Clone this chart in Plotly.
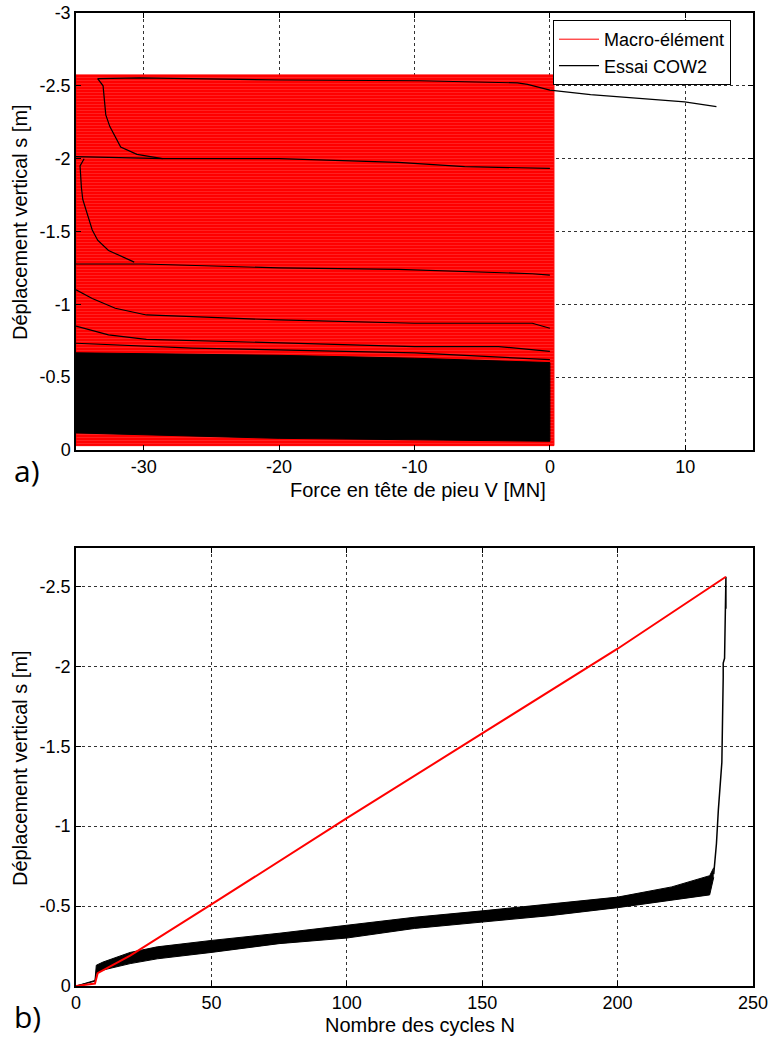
import plotly.graph_objects as go

W, H = 770, 1038

# ---------------- Panel a) : Force V [MN] vs displacement s [m] ----------------
# Macro-element hysteresis area (dense cycles) : force range and displacement range
mac_area_V = [-35.0, 0.3, 0.3, -35.0, -35.0]
mac_area_s = [-2.575, -2.575, -0.03, -0.03, -2.575]
# Macro-element last unloading branch beyond 0
mac_tail_V = [0.0, 12.3]
mac_tail_s = [-2.55, -2.55]

# Test COW2 : dense cycling block
exp_block_V = [-35.0, -20.0, -10.0, 0.0, 0.0, -20.0, -35.0, -35.0]
exp_block_s = [-0.667, -0.65, -0.63, -0.60, -0.06, -0.08, -0.117, -0.667]

# Test COW2 : individual envelope branches
exp_b1_V = [-33.4, -30.3, -19.9, -9.6, -2.4, -1.65, 0.0, 3.0, 9.95, 12.3]
exp_b1_s = [-2.55, -2.555, -2.54, -2.535, -2.52, -2.51, -2.47, -2.44, -2.39, -2.357]
exp_b2_V = [-33.4, -33.0, -32.9, -32.8, -32.5, -31.7, -30.5, -28.6]
exp_b2_s = [-2.55, -2.50, -2.40, -2.30, -2.22, -2.08, -2.03, -2.00]
exp_b3_V = [-35.0, -28.6, -20.0, -11.2, -6.3, 0.0]
exp_b3_s = [-2.014, -2.0, -2.0, -1.975, -1.945, -1.934]
exp_b4_V = [-34.4, -34.7, -34.6, -34.5, -33.8, -33.4, -32.6, -31.4, -30.7]
exp_b4_s = [-2.0, -1.95, -1.80, -1.72, -1.51, -1.44, -1.37, -1.316, -1.29]
exp_b5_V = [-35.0, -30.0, -20.0, -11.2, -1.3, 0.0]
exp_b5_s = [-1.277, -1.277, -1.25, -1.24, -1.21, -1.20]
exp_b6_V = [-35.0, -33.8, -32.1, -29.8, -26.4, -20.0, -10.0, -1.3, 0.0]
exp_b6_s = [-1.10, -1.04, -0.973, -0.927, -0.915, -0.893, -0.87, -0.87, -0.836]
exp_b7_V = [-35.0, -32.6, -29.8, -20.0, -10.0, -3.8, 0.0]
exp_b7_s = [-0.85, -0.79, -0.76, -0.735, -0.71, -0.71, -0.677]
exp_b8_V = [-35.0, -26.4, -10.0, 0.0]
exp_b8_s = [-0.733, -0.70, -0.667, -0.62]

xa_ticks = [-30, -20, -10, 0, 10]
xa_text = ["-30", "-20", "-10", "0", "10"]
ya_ticks = [-3, -2.5, -2, -1.5, -1, -0.5, 0]
ya_text = ["-3", "-2.5", "-2", "-1.5", "-1", "-0.5", "0"]

# ---------------- Panel b) : cycles N vs displacement s [m] ----------------
mac_N = [0, 7, 8, 20, 50, 100, 150, 200, 240]
mac_s = [0.0, -0.015, -0.08, -0.19, -0.51, -1.05, -1.58, -2.11, -2.56]

exp_N = [0, 7, 7.5, 10, 20, 30, 50, 75, 100, 125, 150, 175, 200, 220, 234, 235.5]
exp_s_low = [0.0, -0.03, -0.077, -0.10, -0.14, -0.17, -0.21, -0.265, -0.30, -0.36, -0.40, -0.44, -0.49, -0.535, -0.57, -0.68]
exp_s_high = [0.0, -0.035, -0.13, -0.15, -0.21, -0.245, -0.285, -0.33, -0.38, -0.43, -0.47, -0.515, -0.556, -0.62, -0.69, -0.74]
exp_rise_N = [235.5, 236.5, 237.2, 238.0, 238.5, 239.0, 239.0, 239.5, 239.7, 240.0, 240.0]
exp_rise_s = [-0.70, -0.89, -1.10, -1.27, -1.40, -1.93, -2.02, -2.05, -2.35, -2.56, -2.36]

xb_ticks = [0, 50, 100, 150, 200, 250]
xb_text = ["0", "50", "100", "150", "200", "250"]
yb_ticks = [-2.5, -2, -1.5, -1, -0.5, 0]
yb_text = ["-2.5", "-2", "-1.5", "-1", "-0.5", "0"]

RED = "rgb(255,0,0)"
BLK = "rgb(0,0,0)"

fig = go.Figure()

# panel a traces
fig.add_trace(go.Scatter(x=mac_area_V, y=mac_area_s, mode="lines", fill="toself",
                         fillcolor=RED, line=dict(color=RED, width=1),
                         fillpattern=dict(shape="-", bgcolor=RED, fgcolor="rgb(255,110,110)",
                                          size=3, solidity=0.2),
                         showlegend=False, xaxis="x", yaxis="y", hoverinfo="skip"))
fig.add_trace(go.Scatter(x=mac_tail_V, y=mac_tail_s, mode="lines", name="Macro-élément",
                         line=dict(color=RED, width=1), xaxis="x", yaxis="y"))
fig.add_trace(go.Scatter(x=exp_block_V, y=exp_block_s, mode="lines", fill="toself",
                         fillcolor=BLK, line=dict(color=BLK, width=1),
                         showlegend=False, xaxis="x", yaxis="y", hoverinfo="skip"))
first = True
for bv, bs in [(exp_b1_V, exp_b1_s), (exp_b2_V, exp_b2_s), (exp_b3_V, exp_b3_s),
               (exp_b4_V, exp_b4_s), (exp_b5_V, exp_b5_s), (exp_b6_V, exp_b6_s),
               (exp_b7_V, exp_b7_s), (exp_b8_V, exp_b8_s)]:
    fig.add_trace(go.Scatter(x=bv, y=bs, mode="lines", name="Essai COW2",
                             line=dict(color=BLK, width=1.2), showlegend=first,
                             xaxis="x", yaxis="y"))
    first = False

# panel b traces
fig.add_trace(go.Scatter(x=exp_N, y=exp_s_low, mode="lines", line=dict(color=BLK, width=1),
                         showlegend=False, xaxis="x2", yaxis="y2"))
fig.add_trace(go.Scatter(x=exp_N, y=exp_s_high, mode="lines", line=dict(color=BLK, width=1),
                         fill="tonexty", fillcolor=BLK, showlegend=False,
                         xaxis="x2", yaxis="y2"))
fig.add_trace(go.Scatter(x=exp_rise_N, y=exp_rise_s, mode="lines", line=dict(color=BLK, width=1.5),
                         showlegend=False, xaxis="x2", yaxis="y2"))
fig.add_trace(go.Scatter(x=mac_N, y=mac_s, mode="lines", line=dict(color=RED, width=2),
                         showlegend=False, xaxis="x2", yaxis="y2"))


def px(x):
    return x / W


def py(y):
    return 1 - y / H


tickfont = dict(family="Liberation Sans, Arial, sans-serif", size=18, color="black")
axis_common = dict(showline=True, linecolor="black", linewidth=1.5, mirror="ticks",
                   ticks="inside", ticklen=5, tickcolor="black", showgrid=True,
                   gridcolor="rgba(0,0,0,0.8)", griddash="dot", gridwidth=1,
                   zeroline=False, tickfont=tickfont, tickmode="array", automargin=False)

fig.update_layout(
    width=W, height=H, margin=dict(l=0, r=0, t=0, b=0, pad=0, autoexpand=False),
    autosize=False,
    paper_bgcolor="white", plot_bgcolor="white",
    xaxis=dict(domain=[px(76), px(753)], range=[-35, 15], anchor="y",
               tickvals=xa_ticks, ticktext=xa_text, **axis_common),
    yaxis=dict(domain=[py(450), py(13)], range=[0, -3], anchor="x",
               tickvals=ya_ticks, ticktext=ya_text, **axis_common),
    xaxis2=dict(domain=[px(76), px(753)], range=[0, 250], anchor="y2",
                tickvals=xb_ticks, ticktext=xb_text, **axis_common),
    yaxis2=dict(domain=[py(986), py(548)], range=[0, -2.74], anchor="x2",
                tickvals=yb_ticks, ticktext=yb_text, **axis_common),
    legend=dict(x=px(553), y=py(20), xanchor="left", yanchor="top",
                bgcolor="white", bordercolor="black", borderwidth=1,
                font=dict(family="Liberation Sans, Arial, sans-serif", size=18, color="black"),
                tracegroupgap=0, itemwidth=40, traceorder="normal"),
    showlegend=True,
)

title_font = dict(family="Liberation Sans, Arial, sans-serif", size=20, color="black")
label_font = dict(family="Open Sans, Liberation Sans, sans-serif", size=30, color="black")
annots = [
    dict(text="Force en tête de pieu V [MN]", x=px(418), y=py(490), font=title_font),
    dict(text="Déplacement vertical s [m]", x=px(20), y=py(222), textangle=-90, font=title_font),
    dict(text="Nombre des cycles N", x=px(420), y=py(1025), font=title_font),
    dict(text="Déplacement vertical s [m]", x=px(20), y=py(768), textangle=-90, font=title_font),
    dict(text="a)", x=px(27), y=py(470), font=label_font),
    dict(text="b)", x=px(27), y=py(1016), font=label_font),
]
for a in annots:
    fig.add_annotation(xref="paper", yref="paper", showarrow=False,
                       xanchor="center", yanchor="middle", **a)

fig.write_html("out.html",
               config={"displayModeBar": False, "responsive": False},
               post_script="document.body.style.margin='0';document.body.style.overflow='hidden';")
